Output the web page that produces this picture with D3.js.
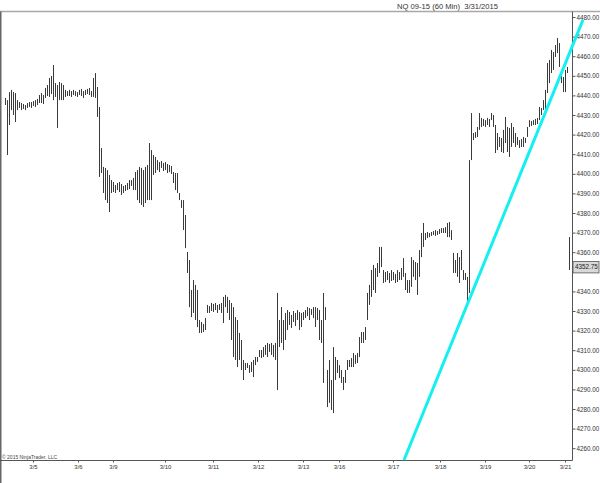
<!DOCTYPE html>
<html><head><meta charset="utf-8">
<script src="https://cdn.jsdelivr.net/npm/d3@7"></script>
<style>html,body{margin:0;padding:0;background:#fff;}svg{display:block;font-family:"Liberation Sans",Arial,sans-serif;}</style>
</head><body>
<svg id="c" width="600" height="483"></svg>
<script>
// ---- data (60-min bars, high / low prices) ----
const highs = [
4438.7,4437.6,4441.7,4442.8,4441.7,4441.2,4437.6,4436.6,4436.1,4435.6,
4435.1,4436.1,4436.6,4436.6,4437.1,4437.6,4438.2,4440.2,4441.2,4440.2,
4443.8,4445.3,4448.9,4449.9,4455.5,4446.3,4445.3,4446.8,4446.3,4445.3,
4442.8,4442.2,4442.8,4442.2,4442.8,4442.2,4441.7,4442.8,4443.3,4442.2,
4442.8,4443.3,4443.8,4442.2,4448.9,4451.4,4444.3,4434.1,4413.2,4403.5,
4403.0,4401.9,4399.4,4396.8,4395.8,4394.3,4395.3,4395.8,4394.8,4393.8,
4394.3,4395.3,4396.8,4396.8,4397.9,4400.9,4401.9,4403.5,4403.0,4401.9,
4403.5,4404.5,4415.7,4412.1,4409.6,4408.6,4407.0,4406.0,4406.5,4405.5,
4406.0,4405.0,4404.5,4404.0,4400.9,4400.4,4400.4,4390.2,4386.6,4386.6,
4379.0,4360.1,4356.0,4340.7,4345.8,4343.3,4340.7,4325.4,4324.4,4323.4,
4326.4,4333.1,4332.5,4334.1,4333.6,4334.1,4333.1,4333.6,4334.1,4337.2,
4338.2,4337.2,4335.6,4334.1,4332.0,4326.9,4325.4,4318.8,4315.2,4305.0,
4303.5,4303.5,4302.4,4304.0,4305.0,4306.5,4306.5,4310.1,4310.1,4311.6,
4312.7,4313.7,4313.2,4313.7,4312.7,4313.7,4339.2,4325.4,4332.0,4325.4,
4329.0,4330.5,4329.5,4328.0,4330.0,4329.0,4330.5,4329.5,4329.0,4329.5,
4330.5,4332.0,4331.5,4331.0,4332.0,4332.0,4331.5,4330.5,4325.4,4339.2,
4332.0,4299.9,4305.0,4294.8,4311.6,4306.5,4305.0,4302.4,4299.9,4296.3,
4299.9,4305.0,4305.0,4306.0,4308.6,4307.6,4308.6,4316.7,4319.3,4319.3,
4321.8,4339.2,4343.3,4350.9,4353.5,4351.9,4354.5,4362.7,4362.7,4350.9,
4349.9,4350.4,4349.4,4350.9,4349.9,4348.9,4350.9,4349.9,4351.9,4357.0,
4349.4,4345.8,4345.8,4357.5,4356.0,4355.0,4354.5,4361.1,4369.8,4374.9,
4369.8,4370.3,4369.8,4370.3,4370.8,4371.3,4370.8,4371.8,4372.3,4372.3,
4372.8,4374.9,4375.4,4371.3,4359.6,4356.0,4359.6,4357.5,4361.1,4350.9,
4349.4,4347.4,4407.0,4431.0,4420.8,4421.3,4423.9,4431.0,4428.5,4428.0,
4427.4,4428.5,4428.0,4431.0,4430.0,4424.9,4420.8,4418.8,4418.3,4422.4,
4429.0,4423.9,4423.4,4425.9,4423.9,4420.8,4418.8,4417.2,4417.7,4418.8,
4418.3,4423.9,4427.4,4426.9,4427.4,4428.0,4428.5,4434.1,4433.6,4437.6,
4442.8,4456.5,4458.1,4463.2,4462.1,4465.7,4469.3,4466.7,4453.0,4449.4,
4453.0,4454.5,4367.7
];
const lows = [
4435.1,4409.6,4424.9,4432.5,4430.0,4426.4,4432.5,4433.6,4432.5,4433.1,
4432.5,4433.6,4434.1,4433.6,4434.6,4434.1,4435.1,4436.1,4436.1,4435.6,
4438.7,4439.7,4439.2,4440.7,4437.6,4439.2,4423.4,4437.6,4437.6,4437.6,
4439.2,4439.7,4439.7,4439.2,4440.2,4439.7,4439.2,4440.2,4439.7,4438.7,
4440.2,4440.7,4440.2,4439.2,4439.2,4438.7,4429.0,4398.4,4400.4,4390.2,
4386.6,4385.1,4380.5,4390.2,4390.7,4390.2,4391.7,4390.7,4389.2,4390.2,
4391.2,4391.7,4392.2,4393.8,4391.7,4391.7,4386.6,4385.1,4384.1,4383.1,
4385.1,4386.6,4386.6,4386.6,4399.4,4400.4,4401.9,4400.9,4403.0,4401.4,
4401.9,4400.4,4400.9,4399.9,4395.3,4391.7,4390.2,4386.6,4382.6,4371.3,
4362.1,4349.4,4332.0,4326.9,4329.0,4325.4,4321.8,4318.8,4318.8,4319.3,
4320.3,4329.0,4329.0,4330.0,4329.5,4330.5,4329.0,4330.5,4329.0,4323.9,
4332.0,4329.0,4325.4,4315.2,4306.5,4305.0,4301.4,4305.0,4299.9,4294.8,
4299.9,4300.9,4298.4,4298.9,4296.3,4302.4,4304.0,4306.5,4306.0,4306.5,
4307.6,4306.5,4309.1,4307.6,4306.5,4305.0,4289.7,4311.6,4313.7,4310.1,
4315.2,4320.3,4322.9,4321.3,4324.4,4322.3,4325.4,4320.3,4321.8,4325.4,
4326.4,4327.4,4325.4,4328.0,4326.4,4321.8,4325.4,4315.2,4313.7,4293.3,
4325.4,4281.0,4283.1,4279.5,4277.9,4294.8,4298.4,4295.8,4293.3,4289.7,
4293.3,4299.9,4301.4,4301.4,4301.4,4303.0,4303.5,4306.5,4313.7,4313.7,
4315.2,4325.4,4333.1,4337.2,4340.7,4339.2,4347.4,4349.4,4352.4,4344.3,
4344.8,4345.8,4344.3,4345.3,4345.8,4344.3,4344.8,4345.8,4345.8,4347.4,
4340.7,4339.2,4339.2,4342.3,4347.4,4345.8,4338.2,4347.4,4357.5,4362.7,
4366.2,4367.2,4367.7,4368.3,4368.8,4368.3,4368.8,4369.3,4369.8,4369.8,
4369.8,4367.7,4367.7,4366.2,4349.4,4349.4,4347.4,4344.3,4350.9,4345.8,
4345.8,4333.1,4339.2,4407.0,4417.2,4418.3,4418.8,4422.4,4423.9,4424.4,
4423.9,4424.9,4423.9,4427.4,4423.9,4410.6,4412.1,4413.7,4411.1,4410.6,
4415.7,4411.1,4408.6,4413.7,4415.7,4413.7,4414.7,4413.2,4413.7,4413.7,
4415.7,4418.8,4423.9,4424.4,4424.9,4424.9,4425.4,4427.4,4430.0,4432.5,
4432.5,4441.2,4446.3,4451.4,4453.0,4459.6,4461.6,4454.5,4446.3,4441.7,
4441.7,4451.4,4350.9
];
const priceTicks = [4260,4270,4280,4290,4300,4310,4320,4330,4340,4350,4360,4370,4380,4390,4400,4410,4420,4430,4440,4450,4460,4470,4480];
const dateLabels = ["3/5","3/6","3/9","3/10","3/11","3/12","3/13","3/16","3/17","3/18","3/19","3/20","3/21"];
const dateIndex  = [14,36.5,54,80,104,126.5,149,167,194,217.5,240,262,280];
const trendIndex = [199.5, 289];
const trendPrice = [4254, 4478.5];
const lastPrice = 4352.75;
const title = "NQ 09-15 (60 Min)  3/31/2015";
const copyright = "\u00A9 2015 NinjaTrader, LLC";

// ---- drawing ----
const svg = d3.select("#c");
const W = 600, H = 483, axisX = 572.5, axisY = 460.5, topY = 11.5;
const x = d3.scaleLinear().domain([0, highs.length - 1]).range([5, 569]);
const y = d3.scaleLinear().domain([4260, 4480]).range([448.2, 17]);

svg.append("rect").attr("width", W).attr("height", H).attr("fill", "#fff");

// frame
svg.append("line").attr("x1", 0).attr("x2", W).attr("y1", topY).attr("y2", topY)
  .attr("stroke", "#a8a8a8").attr("stroke-width", 1.5);
svg.append("line").attr("x1", 0.75).attr("x2", 0.75).attr("y1", topY).attr("y2", H)
  .attr("stroke", "#666").attr("stroke-width", 1.5);

// bars
const bars = svg.append("g").attr("stroke", "#3a3a3a").attr("stroke-width", 1);
highs.forEach((h, i) => {
  const xi = Math.round(x(i)) + 0.5;
  const y1 = y(h), y2 = Math.max(y(lows[i]), y1 + 1);
  bars.append("line").attr("x1", xi).attr("x2", xi).attr("y1", y1).attr("y2", y2);
});

// last price box position (labels hidden behind it are not drawn)
const ly = y(lastPrice);
const boxTop = ly - 5, boxH = 11.5;

// right axis
const ra = svg.append("g").attr("transform", `translate(${axisX},0)`)
  .call(d3.axisRight(y).tickValues(priceTicks).tickFormat(d3.format(".2f")).tickSize(3).tickPadding(1));
ra.select(".domain").remove();
ra.selectAll("line").attr("stroke", "#555");
ra.selectAll("text").attr("font-size", 6.3).attr("fill", "#333").attr("font-family", '"Liberation Sans",Arial,sans-serif');
ra.selectAll(".tick").filter(d => Math.abs(y(d) - (boxTop + boxH / 2)) < 9).select("text").remove();
svg.append("line").attr("x1", axisX).attr("x2", axisX).attr("y1", topY).attr("y2", axisY)
  .attr("stroke", "#555").attr("stroke-width", 1);

// bottom axis
const ba = svg.append("g").attr("transform", `translate(0,${axisY})`)
  .call(d3.axisBottom(x).tickValues(dateIndex).tickFormat((d, i) => dateLabels[i]).tickSize(2).tickPadding(2));
ba.select(".domain").remove();
ba.selectAll("line").attr("stroke", "#555");
ba.selectAll("text").attr("font-size", 6).attr("fill", "#333").attr("font-family", '"Liberation Sans",Arial,sans-serif');
svg.append("line").attr("x1", 0).attr("x2", axisX).attr("y1", axisY).attr("y2", axisY)
  .attr("stroke", "#555").attr("stroke-width", 1);

// trend line
svg.append("line")
  .attr("x1", x(trendIndex[0])).attr("y1", y(trendPrice[0]))
  .attr("x2", x(trendIndex[1])).attr("y2", y(trendPrice[1]))
  .attr("stroke", "#14f0f0").attr("stroke-width", 3);

// last price marker
svg.append("rect").attr("x", 573).attr("y", boxTop).attr("width", 26).attr("height", boxH)
  .attr("fill", "#d9d9d9").attr("stroke", "#555").attr("stroke-width", 0.8);
svg.append("text").attr("x", 575).attr("y", ly + 2.6).attr("font-size", 6.3).attr("fill", "#222")
  .text(lastPrice.toFixed(2));

// title & copyright
svg.append("text").attr("x", 498).attr("y", 8.5).attr("text-anchor", "end")
  .attr("font-size", 7.6).attr("fill", "#333").style("white-space", "pre").text(title);
svg.append("text").attr("x", 2).attr("y", 458.5).attr("font-size", 5).attr("fill", "#444").text(copyright);
</script>
</body></html>
